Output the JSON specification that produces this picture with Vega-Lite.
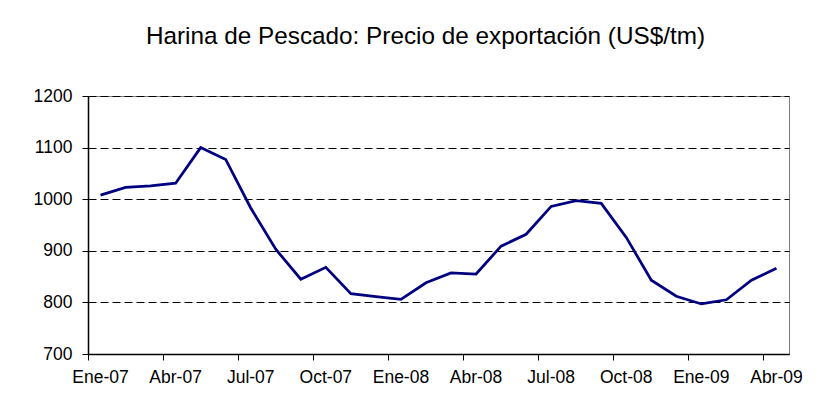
{
  "$schema": "https://vega.github.io/schema/vega-lite/v6.json",
  "autosize": {"type": "none"},
  "width": 701,
  "height": 258,
  "padding": {"left": 88, "top": 96, "right": 35, "bottom": 53},
  "background": "white",
  "title": {
    "text": "Harina de Pescado: Precio de exportación (US$/tm)",
    "font": "Liberation Sans",
    "fontSize": 24.3,
    "fontWeight": "normal",
    "color": "black",
    "anchor": "middle",
    "frame": "group",
    "baseline": "alphabetic",
    "offset": 19,
    "dx": -13
  },
  "config": {
    "view": {"stroke": "#808080", "strokeWidth": 1},
    "axis": {
      "labelFont": "Liberation Sans",
      "labelFontSize": 17.5,
      "labelColor": "black",
      "domainColor": "black",
      "tickColor": "black",
      "titleFont": "Liberation Sans"
    }
  },
  "data": {
    "values": [
      {"mes": "Ene-07", "precio": 1008},
      {"mes": "Feb-07", "precio": 1023},
      {"mes": "Mar-07", "precio": 1026},
      {"mes": "Abr-07", "precio": 1031},
      {"mes": "May-07", "precio": 1100},
      {"mes": "Jun-07", "precio": 1077},
      {"mes": "Jul-07", "precio": 983},
      {"mes": "Ago-07", "precio": 903},
      {"mes": "Sep-07", "precio": 845},
      {"mes": "Oct-07", "precio": 868},
      {"mes": "Nov-07", "precio": 817},
      {"mes": "Dic-07", "precio": 811},
      {"mes": "Ene-08", "precio": 806},
      {"mes": "Feb-08", "precio": 838},
      {"mes": "Mar-08", "precio": 857},
      {"mes": "Abr-08", "precio": 855},
      {"mes": "May-08", "precio": 909},
      {"mes": "Jun-08", "precio": 932},
      {"mes": "Jul-08", "precio": 986},
      {"mes": "Ago-08", "precio": 997},
      {"mes": "Sep-08", "precio": 992},
      {"mes": "Oct-08", "precio": 926},
      {"mes": "Nov-08", "precio": 843},
      {"mes": "Dic-08", "precio": 812},
      {"mes": "Ene-09", "precio": 797},
      {"mes": "Feb-09", "precio": 805},
      {"mes": "Mar-09", "precio": 843},
      {"mes": "Abr-09", "precio": 866}
    ]
  },
  "mark": {"type": "line", "color": "#000080", "strokeWidth": 2.75},
  "encoding": {
    "x": {
      "field": "mes",
      "type": "ordinal",
      "sort": null,
      "scale": {"type": "band", "paddingInner": 0, "paddingOuter": 0},
      "axis": {
        "title": null,
        "values": ["Ene-07", "Abr-07", "Jul-07", "Oct-07", "Ene-08", "Abr-08", "Jul-08", "Oct-08", "Ene-09", "Abr-09"],
        "labelAngle": 0,
        "bandPosition": 0,
        "tickSize": 6,
        "labelPadding": 8,
        "grid": false,
        "domainWidth": 1.5
      }
    },
    "y": {
      "field": "precio",
      "type": "quantitative",
      "scale": {"domain": [700, 1200], "nice": false, "zero": false},
      "axis": {
        "title": null,
        "format": "d",
        "values": [700, 800, 900, 1000, 1100, 1200],
        "tickSize": 6,
        "labelPadding": 10,
        "grid": true,
        "gridColor": "black",
        "gridDash": [8, 4],
        "gridWidth": 1,
        "domainWidth": 1.5
      }
    }
  }
}
